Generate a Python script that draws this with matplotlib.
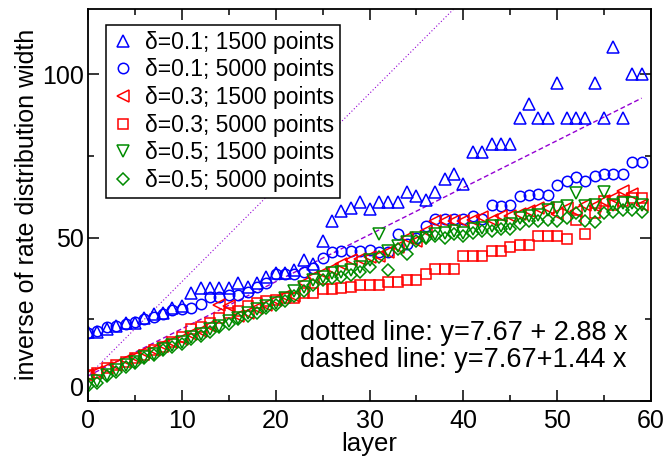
import matplotlib
matplotlib.use('Agg')
import matplotlib.pyplot as plt
import numpy as np

plt.rcParams['font.family'] = ['Liberation Sans', 'DejaVu Sans']

# layers 0..59
layer = list(range(60))

tri_01_1500 = [21, 21, 22, 23, 24, 24, 25.5, 26.5, 27, 28.5,
               29, 33, 34.5, 34.5, 34.5, 34.5, 36, 35, 36, 38,
               39, 39, 40, 43, 42, 49, 55, 58, 59, 61,
               58.7, 61, 61, 61, 63.8, 62.8, 61.5, 63.8, 68, 69.4,
               66.5, 76.3, 76.3, 78.5, 78.5, 78.5, 86.7, 91, 86.7, 86.7,
               97.4, 86.7, 86.7, 86.7, 97.4, 86.7, 108.3, 86.7, 100, 100]
circ_01_5000 = [20.8, 21.5, 22.5, 23, 23.5, 24.2, 25, 25.7, 26.7, 27.7,
                28, 28.5, 29.8, 31.8, 31.8, 32.5, 32.5, 33.3, 34.9, 36,
                38.9, 38.9, 38.9, 39.5, 40.8, 43.8, 45.5, 46, 46, 46,
                46.2, 45.5, 45.5, 51, 48, 50, 53.4, 55.7, 55.7, 55.7,
                55.7, 56.5, 55.7, 60, 59.5, 60, 62.8, 63, 63.4, 63,
                66.2, 67.2, 68.4, 67.4, 68.7, 69.4, 69.4, 69.4, 73, 73]
tri_03_1500 = [8, 9, 10, 11, 12.5, 13.5, 15, 15.5, 17, 18,
               19, 20.5, 21.5, 23, 29.5, 29, 26, 27, 28.5, 29.5,
               31, 32, 32, 36, 38, 39, 40.5, 42, 43, 43.5,
               44, 44.5, 45.5, 47, 50, 49, 52, 55, 55, 55,
               55, 55.5, 56.2, 55.5, 56.5, 56.5, 57.2, 58, 59, 59,
               57.2, 59, 58, 60, 59.5, 61.3, 62, 64.3, 63.3, 60]
sq_03_5000 = [8, 8.5, 10, 11, 12, 13, 14, 15.5, 16.5, 18,
              19.5, 22, 22.5, 24, 25.5, 27, 27.5, 29, 30, 30.5,
              31, 31.5, 31.5, 33, 33, 34.4, 34.4, 34.5, 35, 35.4,
              35.5, 35.5, 36.5, 36.5, 36.9, 36.9, 38.7, 40.4, 40.4, 40.4,
              44.5, 44.5, 44.5, 45.8, 45.8, 47, 47.6, 47.6, 50.6, 50.6,
              50.6, 49.6, 55.5, 51.1, 57.5, 61.3, 60, 61.3, 62, 62]
tri_05_1500 = [5, 6, 8, 9.5, 11, 12, 13.5, 14.5, 16, 17,
               18, 19.5, 20.5, 22, 23, 24.5, 25.5, 27, 28, 29,
               30, 31.5, 33.5, 35, 37, 38, 39, 39.5, 40, 41,
               43, 51, 46, 47.5, 48.5, 50, 50, 51, 51.5, 52,
               51.5, 52.5, 53, 53.5, 53.5, 54, 56, 56.5, 57, 58.5,
               59, 59.5, 63.5, 59.5, 60, 63.8, 60, 60.5, 60.5, 60]
dia_05_5000 = [4.5, 5.5, 7.5, 9, 10.5, 11.5, 13, 14, 15.5, 16.5,
               17.5, 19, 20, 21, 22.5, 23.5, 25, 26, 27, 28.5,
               29.5, 30.5, 32, 33.5, 35.5, 37, 37.5, 38, 38.5, 39.5,
               41, 44, 40, 46.5, 45, 49, 50, 50.5, 50, 51,
               50.5, 51.5, 52, 52, 52.5, 52.5, 54, 55, 55, 55.5,
               55, 56, 57.5, 55, 54.7, 57.5, 57.7, 58.3, 58.5, 57.7]

# fitted lines y = a + b x
fit_a = 7.67
dotted_b = 2.88
dashed_b = 1.44

blue = '#0000ff'
red = '#ff0000'
green = '#008b00'
violet = '#9400d3'

fig, ax = plt.subplots(figsize=(6.65, 4.58), dpi=100)
fig.subplots_adjust(left=0.1323, right=0.979, bottom=0.1245, top=0.981)

xs = np.array([0, 59])
ax.plot(xs, fit_a + dotted_b * xs, color=violet, lw=0.8, ls=(0, (1, 2)))
ax.plot(xs, fit_a + dashed_b * xs, color=violet, lw=1.0, ls=(0, (3.5, 2)))

mk = dict(ls='none', mfc='none', mew=1.1)
ax.plot(layer, tri_01_1500, marker='^', ms=8.5, mec=blue, label=u'\u03b4=0.1; 1500 points', **mk)
ax.plot(layer, circ_01_5000, marker='o', ms=7.5, mec=blue, label=u'\u03b4=0.1; 5000 points', **mk)
ax.plot(layer, tri_03_1500, marker='<', ms=8.5, mec=red, label=u'\u03b4=0.3; 1500 points', **mk)
ax.plot(layer, sq_03_5000, marker='s', ms=7, mec=red, label=u'\u03b4=0.3; 5000 points', **mk)
ax.plot(layer, tri_05_1500, marker='v', ms=8.5, mec=green, label=u'\u03b4=0.5; 1500 points', **mk)
ax.plot(layer, dia_05_5000, marker='D', ms=5.8, mec=green, label=u'\u03b4=0.5; 5000 points', **mk)

ax.set_xlim(0, 60)
ax.set_ylim(0, 120)
ax.set_xticks([0, 10, 20, 30, 40, 50, 60])
ax.set_xticks([5, 15, 25, 35, 45, 55], minor=True)
ax.set_yticks([0, 50, 100])
ax.set_yticks([25, 75], minor=True)
ax.tick_params(which='both', direction='in', top=True, right=True, width=1.1)
ax.tick_params(which='major', length=8, labelsize=18)
ax.tick_params(which='minor', length=4)
ax.tick_params(axis='x', pad=6)
ax.tick_params(axis='y', pad=3)
for s in ax.spines.values():
    s.set_linewidth(1.3)
ax.get_yticklabels()[0].set_va('bottom')

ax.set_xlabel('layer', fontsize=18.5, labelpad=-1)
ax.set_ylabel('inverse of rate distribution width', fontsize=18, labelpad=2)

ax.text(22.6, 18.6, 'dotted line: y=7.67 + 2.88 x', fontsize=19.5, va='baseline')
ax.text(22.6, 10.4, 'dashed line: y=7.67+1.44 x', fontsize=19.5, va='baseline')

leg = ax.legend(loc='upper left', bbox_to_anchor=(0.032, 0.958), borderaxespad=0,
                fontsize=16.5, numpoints=1, handlelength=0.95, handletextpad=0.5,
                labelspacing=0.2, borderpad=0.25, fancybox=False, framealpha=1)
leg.get_frame().set_edgecolor('black')
leg.get_frame().set_linewidth(1.1)

fig.savefig('out.png')
